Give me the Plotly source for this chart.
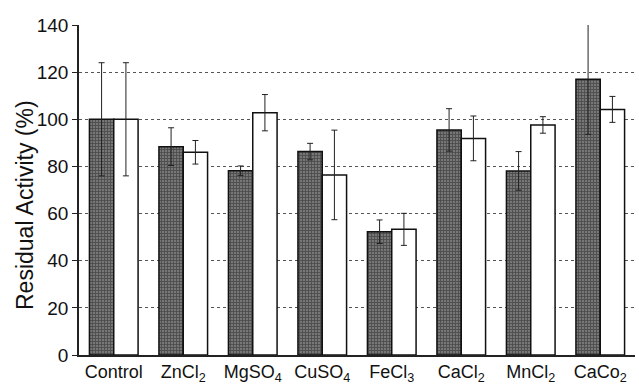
import plotly.graph_objects as go

categories = ["Control", "ZnCl<sub>2</sub>", "MgSO<sub>4</sub>", "CuSO<sub>4</sub>",
              "FeCl<sub>3</sub>", "CaCl<sub>2</sub>", "MnCl<sub>2</sub>", "CaCo<sub>2</sub>"]
dark_values = [100, 88.4, 78.2, 86.3, 52.3, 95.5, 78.1, 117]
dark_errors = [24, 8, 2, 3.5, 5, 9, 8.2, 23.4]
white_values = [100, 86, 102.8, 76.4, 53.3, 91.9, 97.6, 104.2]
white_errors = [24, 5, 7.7, 19, 6.8, 9.5, 3.5, 5.5]
y_ticks = [0, 20, 40, 60, 80, 100, 120, 140]
y_title = "Residual Activity (%)"

fig = go.Figure()
fig.add_trace(go.Bar(
    x=categories, y=dark_values,
    error_y=dict(type="data", array=dark_errors, color="#222", thickness=1, width=3),
    marker=dict(color="#505050", line=dict(color="#111", width=1.5),
                pattern=dict(shape="+", fgcolor="#222", bgcolor="#777", size=3, solidity=0.5)),
    showlegend=False,
))
fig.add_trace(go.Bar(
    x=categories, y=white_values,
    error_y=dict(type="data", array=white_errors, color="#222", thickness=1, width=3),
    marker=dict(color="white", line=dict(color="#111", width=1.5)),
    showlegend=False,
))

fig.add_annotation(text=y_title, textangle=-90, xref="paper", yref="paper",
                   x=(25 - 79) / 556, y=(355 - 205) / 330, xanchor="center", yanchor="middle",
                   showarrow=False, font=dict(size=23, color="#111"))

fig.update_layout(
    width=639, height=385,
    margin=dict(l=79, r=4, t=25, b=30, autoexpand=False),
    paper_bgcolor="white", plot_bgcolor="white",
    barmode="group", bargap=0.3, bargroupgap=0,
    font=dict(family="Liberation Sans, Arial, sans-serif", color="#111", size=18),
    xaxis=dict(showline=True, linecolor="#222", linewidth=1.5, ticks="", ticklen=0,
               tickfont=dict(size=18), showgrid=False, automargin=False),
    yaxis=dict(range=[0, 140], tickvals=y_ticks, showline=True, linecolor="#222", linewidth=1.5,
               ticks="outside", ticklen=5, tickcolor="#222", tickfont=dict(size=19),
               showgrid=True, gridcolor="#555", gridwidth=1, griddash="dot",
               zeroline=False, automargin=False),
)

fig.write_html("out.html", config={"displayModeBar": False},
               post_script="document.body.style.margin='0px';document.body.style.overflow='hidden';")
